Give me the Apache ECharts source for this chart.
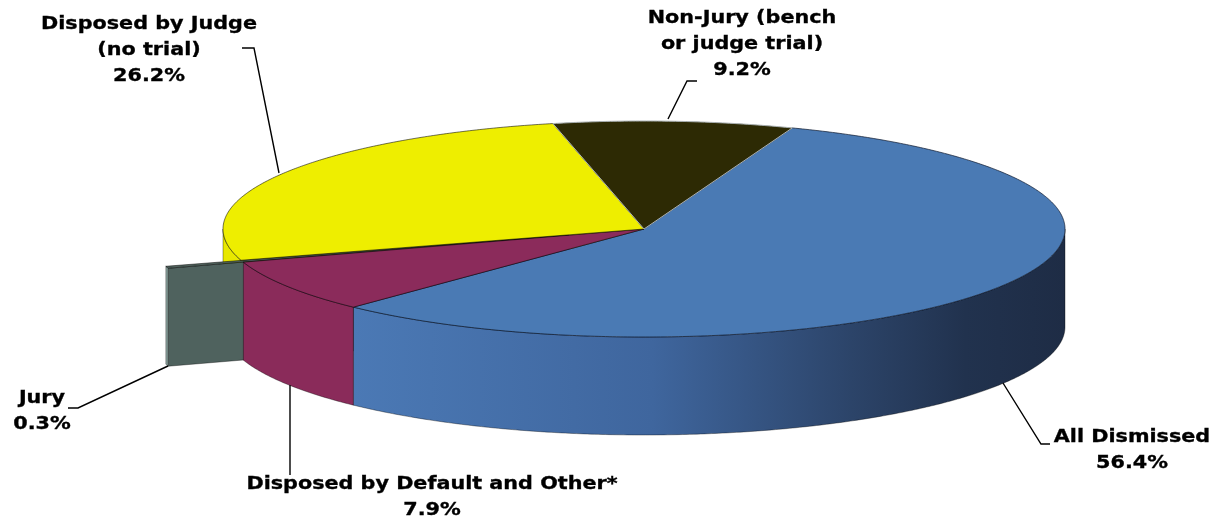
<!DOCTYPE html>
<html>
<head>
<meta charset="utf-8">
<script src="https://cdn.jsdelivr.net/npm/echarts@6/dist/echarts.min.js"></script>
<style>
html,body{margin:0;padding:0;background:#ffffff;}
#chart{width:1219px;height:520px;}
</style>
</head>
<body>
<div id="chart"></div>
<script>
// ---- data ----
const categories = [
  'Non-Jury (bench\nor judge trial)',
  'All Dismissed',
  'Disposed by Default and Other*',
  'Jury',
  'Disposed by Judge\n(no trial)'
];
const percents = [9.2, 56.4, 7.9, 0.3, 26.2];

// ---- styling / layout (not data) ----
const PIE = { cx: 644, cy: 229, rx: 421, ry: 108, depth: 98, start: -102.5 };
const explode = [0, 0, 0, 0.187, 0];
const topColors = ['#2d2a04', '#4a7ab4', '#8b2b5b', '#52655f', '#eeee00'];
const faceColors = ['#2a2704', '#3f669e', '#872a58', '#4f625e', '#d9d900'];
const rimColors = [
  '#2a2704',
  new echarts.graphic.LinearGradient(0, 0, 1, 0, [
    { offset: 0, color: '#4b79b5' },
    { offset: 0.42, color: '#3f669e' },
    { offset: 0.7, color: '#2c4469' },
    { offset: 0.86, color: '#21324e' },
    { offset: 1, color: '#1e2c45' }
  ]),
  '#8a2b5a',
  '#8fa7a2',
  '#e8e800'
];
const topStroke = ['#a9b0b2', 'rgba(15,25,45,0.7)', 'rgba(0,0,0,0.5)', 'rgba(0,0,0,0.5)', 'rgba(0,0,0,0.55)'];
const labelPos = [[742, 44], [1132, 450], [432, 497], [42, 411], [149, 50.5]];
const leaders = [
  [[697, 81], [687, 81], [668, 119]],
  [[1050, 444], [1041, 444], [1003, 383]],
  [[290, 385], [290, 475]],
  [[68, 408], [78, 408], [168, 366]],
  [[242, 48], [254, 48], [279, 173]]
];

const total = percents.reduce((a, b) => a + b, 0);
const rad = d => d * Math.PI / 180;
function angles(i) {
  let c = 0;
  for (let k = 0; k < i; k++) c += percents[k];
  const a0 = PIE.start + c / total * 360;
  return [a0, a0 + percents[i] / total * 360];
}
const explodedIdx = explode.findIndex(x => x > 0);
const explodedMid = explodedIdx >= 0 ? (angles(explodedIdx)[0] + angles(explodedIdx)[1]) / 2 : 999;

function renderItem(params, api) {
  const i = params.dataIndex;
  const v = api.value(0);
  const n = percents.length;
  const [a0, a1] = angles(i);
  const e = explode[i];
  const m = (a0 + a1) / 2;
  const cx = PIE.cx + e * PIE.rx * Math.cos(rad(m));
  const cy = PIE.cy + e * PIE.ry * Math.sin(rad(m));
  const D = PIE.depth;
  const P = (a, dz) => [cx + PIE.rx * Math.cos(rad(a)), cy + PIE.ry * Math.sin(rad(a)) + (dz || 0)];
  const arc = (s, t, dz) => {
    const cnt = Math.max(2, Math.ceil(Math.abs(t - s) / 0.5) + 1);
    const pts = [];
    for (let k = 0; k < cnt; k++) pts.push(P(s + (t - s) * k / (cnt - 1), dz));
    return pts;
  };
  const children = [];
  const edge = 'rgba(0,0,0,0.45)';

  // outer rim (front half only)
  for (const k of [-360, 0, 360]) {
    const lo = Math.max(a0 + k, 0), hi = Math.min(a1 + k, 180);
    if (hi > lo) {
      let z = 3;
      if (e > 0) z = 2;
      else if (lo >= explodedMid) z = 1;
      children.push({
        type: 'polygon', z2: z,
        shape: { points: arc(lo, hi, 0).concat(arc(hi, lo, D)) },
        style: { fill: rimColors[i], stroke: edge, lineWidth: 0.8 }
      });
    }
  }

  // radial faces adjacent to an exploded gap
  const prevExpl = explode[(i - 1 + n) % n] > 0;
  const nextExpl = explode[(i + 1) % n] > 0;
  if ((e > 0 || prevExpl) && Math.cos(rad(a0)) < 0) {
    children.push({
      type: 'polygon', z2: e > 0 ? 2.2 : 1,
      shape: { points: [[cx, cy], P(a0, 0), P(a0, D), [cx, cy + D]] },
      style: { fill: faceColors[i], stroke: edge, lineWidth: 0.8 }
    });
  }
  if ((e > 0 || nextExpl) && Math.cos(rad(a1)) > 0) {
    children.push({
      type: 'polygon', z2: e > 0 ? 2.2 : 1,
      shape: { points: [[cx, cy], P(a1, 0), P(a1, D), [cx, cy + D]] },
      style: { fill: faceColors[i], stroke: edge, lineWidth: 0.8 }
    });
  }

  // top face
  children.push({
    type: 'polygon', z2: e > 0 ? 2.5 : (i === 0 ? 4.5 : 4),
    shape: { points: [[cx, cy]].concat(arc(a0, a1, 0)) },
    style: { fill: topColors[i], stroke: topStroke[i], lineWidth: 1 }
  });

  // leader line
  children.push({
    type: 'polyline', z2: 10,
    shape: { points: leaders[i] },
    style: { fill: null, stroke: '#000000', lineWidth: 1.4 }
  });

  // label
  children.push({
    type: 'text', z2: 10,
    x: labelPos[i][0], y: labelPos[i][1], scaleX: 1.12, scaleY: 1,
    style: {
      text: categories[i] + '\n' + v.toFixed(1) + '%',
      x: 0, y: 0,
      align: 'center', verticalAlign: 'middle',
      fontFamily: '"DejaVu Sans", Verdana, sans-serif',
      fontWeight: 'bold', fontSize: 18.5, lineHeight: 26,
      fill: '#000000', stroke: '#000000', lineWidth: 0.35
    }
  });

  return { type: 'group', children: children };
}

const chart = echarts.init(document.getElementById('chart'), null, { renderer: 'canvas' });
chart.setOption({
  backgroundColor: '#ffffff',
  animation: false,
  series: [{
    type: 'custom',
    coordinateSystem: 'none',
    renderItem: renderItem,
    silent: true,
    data: percents.map((v, i) => ({ name: categories[i], value: [v] }))
  }]
});
</script>
</body>
</html>
